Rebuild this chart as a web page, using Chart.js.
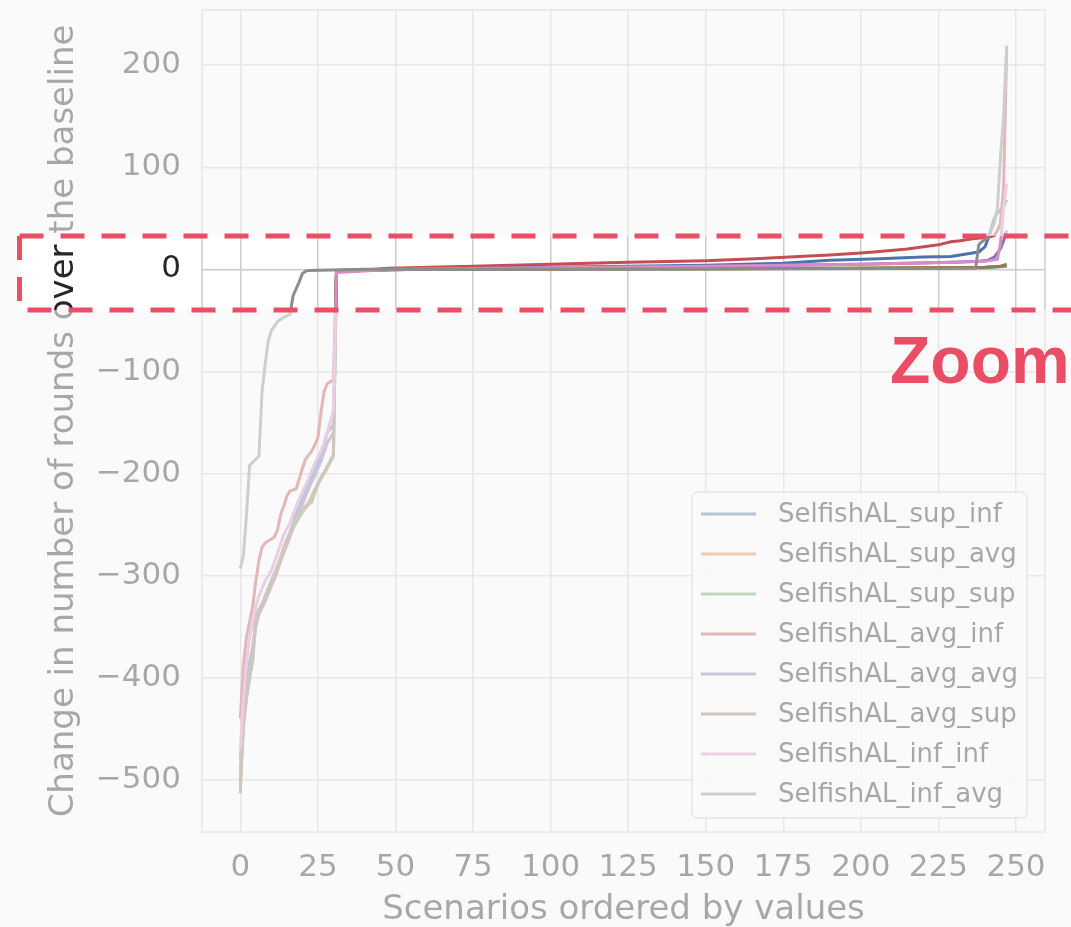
<!DOCTYPE html>
<html><head><meta charset="utf-8">
<script src="https://cdn.jsdelivr.net/npm/chart.js@4.4.1/dist/chart.umd.min.js"></script>
<style>html,body{margin:0;padding:0;background:#fff;overflow:hidden}#wrap{position:relative;width:1071px;height:927px}</style>
</head><body><div id="wrap"><canvas id="c" width="1071" height="927"></canvas></div>
<script>
// ---- data: [scenario index, change in rounds] ----
const labels = ['SelfishAL_sup_inf','SelfishAL_sup_avg','SelfishAL_sup_sup','SelfishAL_avg_inf','SelfishAL_avg_avg','SelfishAL_avg_sup','SelfishAL_inf_inf','SelfishAL_inf_avg'];
const colors = ['#4c72b0','#dd8452','#55a868','#c44e52','#8172b3','#937860','#da8bc3','#8c8c8c'];
const xTicks = [0,25,50,75,100,125,150,175,200,225,250];
const yTicks = [-500,-400,-300,-200,-100,0,100,200];

const sup_inf = [[0,-480],[1,-440],[2,-405],[3,-385],[4,-370],[5,-345],[6,-335],[8,-320],[10,-305],[12,-290],[14,-275],[16,-258],[18,-240],[20,-225],[22,-210],[24,-197],[26,-183],[28,-160],[30,-152],[31,-2],[50,0],[100,2],[150,4],[175,6],[190,9],[206,10.5],[220,12],[229,12.5],[235,15.5],[238,17],[240,22],[241,30],[242,40],[243,50],[244,55],[245,58],[246,62],[247,68]];
const sup_avg = [[0,-500],[1,-450],[2,-420],[3,-400],[4,-380],[5,-342],[6,-335],[8,-322],[10,-308],[12,-290],[14,-272],[16,-258],[18,-245],[20,-235],[22,-228],[24,-215],[26,-205],[28,-195],[30,-180],[31,-1],[60,0],[150,0.5],[200,1],[240,2],[245,3],[247,4]];
const sup_sup = [[0,-505],[1,-445],[2,-410],[3,-398],[4,-385],[5,-340],[6,-333],[8,-325],[10,-310],[12,-295],[14,-275],[16,-260],[18,-248],[20,-238],[22,-230],[24,-218],[26,-205],[28,-193],[30,-182],[31,-1],[60,0],[150,0.5],[200,1],[240,1.5],[247,3]];
const avg_inf = [[0,-440],[1,-387],[2,-360],[3,-345],[4,-330],[5,-305],[6,-285],[7,-272],[8,-268],[10,-264],[11,-262],[12,-255],[13,-240],[14,-232],[15,-222],[16,-217],[18,-215],[19,-205],[20,-195],[21,-186],[22,-182],[23,-178],[24,-172],[25,-165],[26,-140],[27,-120],[28,-112],[29,-110],[30,-108],[31,-2],[40,-0.5],[48,1],[75,3],[100,5],[125,7],[150,8.5],[166,10.5],[180,12.5],[190,14],[200,16],[206,17.5],[215,20],[225,24],[229,27],[232,28],[236,30],[241,31.5],[243,33],[244,38],[245,45],[246,80],[247,218]];
const avg_avg = [[0,-490],[1,-445],[2,-415],[3,-395],[4,-375],[5,-350],[6,-338],[8,-325],[10,-310],[12,-293],[14,-278],[16,-262],[18,-245],[20,-230],[22,-215],[24,-202],[26,-188],[28,-170],[30,-160],[31,-2],[50,0],[100,1.5],[150,3],[200,5],[230,7],[238,8],[241,9],[243,12],[245,20],[246,28],[247,38]];
const avg_sup = [[0,-513],[1,-441],[2,-420],[3,-400],[4,-380],[5,-337],[7,-329],[9,-315],[11,-303],[13,-285],[14,-273],[17,-250],[20,-235],[23,-228],[25,-209],[28,-194],[30,-183],[31,-1],[60,0],[150,0.5],[200,1],[240,2],[245,3],[247,5]];
const inf_inf = [[0,-470],[1,-420],[2,-385],[3,-360],[4,-345],[5,-330],[6,-320],[8,-305],[10,-295],[12,-278],[14,-260],[16,-248],[18,-232],[20,-218],[22,-205],[24,-190],[26,-178],[28,-160],[30,-138],[31,-3],[50,0],[100,1.5],[150,3],[200,5],[230,7],[240,8],[244,10],[245,25],[246,60],[247,84]];
const inf_avg = [[0,-293],[1,-280],[2,-240],[3,-192],[5,-186],[6,-183],[7,-120],[8,-93],[9,-70],[10,-60],[12,-51],[14,-47],[16,-44],[17,-26],[18,-19],[19,-12],[20,-4],[21,-2],[22,-1],[40,0],[150,0.3],[237,1],[238,24],[239,27],[240,29],[241,31],[242,38],[243,45],[244,60],[245,110],[246,150],[247,219]];
const series = [sup_inf, sup_avg, sup_sup, avg_inf, avg_avg, avg_sup, inf_inf, inf_avg];

const FONT = '"DejaVu Sans", Verdana, sans-serif';
const TXT = '#262626';

const datasets = series.map((s, i) => ({
  label: labels[i],
  data: s.map(p => ({x: p[0], y: p[1]})),
  borderColor: colors[i],
  backgroundColor: colors[i],
  borderWidth: 3,
  pointRadius: 0,
  tension: 0,
  fill: false,
  order: -i,
  borderJoinStyle: 'round'
}));

const bgPlugin = {
  id: 'bg',
  beforeDraw(chart) {
    const c = chart.ctx;
    c.save(); c.fillStyle = '#ffffff'; c.fillRect(0, 0, chart.width, chart.height); c.restore();
  },
  beforeDatasetsDraw(chart) {
    const c = chart.ctx, a = chart.chartArea;
    c.save(); c.strokeStyle = '#cccccc'; c.lineWidth = 1.5;
    c.strokeRect(a.left, a.top, a.right - a.left, a.bottom - a.top);
    c.restore();
  },
  afterDatasetsDraw(chart) {
    // legend
    const c = chart.ctx;
    c.save();
    const bx = 692, by = 492, bw = 335, bh = 326;
    c.beginPath();
    c.roundRect(bx, by, bw, bh, 6);
    c.fillStyle = 'rgba(255,255,255,0.85)';
    c.fill();
    c.strokeStyle = '#cccccc'; c.lineWidth = 1.5; c.stroke();
    c.font = '26px ' + FONT;
    c.textBaseline = 'middle';
    chart.data.datasets.forEach((d, i) => {
      const y = 514 + i * 40;
      c.strokeStyle = d.borderColor; c.lineWidth = 3;
      c.beginPath(); c.moveTo(701, y); c.lineTo(756, y); c.stroke();
      c.fillStyle = TXT;
      c.fillText(d.label, 778, y + 1);
    });
    c.restore();
  },
  afterDraw(chart) {
    const c = chart.ctx, W = chart.width, H = chart.height;
    const top = 236, bot = 310, left = 19.5;
    c.save();
    c.beginPath();
    c.rect(0, 0, W, H);
    c.rect(left, top, W - left + 5, bot - top);
    c.fillStyle = 'rgba(247,247,247,0.62)';
    c.fill('evenodd');
    c.strokeStyle = '#e94e66';
    c.lineWidth = 5;
    c.setLineDash([24, 17]);
    c.beginPath(); c.moveTo(left, top); c.lineTo(W + 10, top); c.stroke();
    c.beginPath(); c.moveTo(left, top); c.lineTo(left, bot); c.lineTo(W + 10, bot); c.stroke();
    c.setLineDash([]);
    c.fillStyle = '#e94e66';
    c.font = 'bold 66px "Liberation Sans", Arial, sans-serif';
    c.textBaseline = 'alphabetic';
    c.fillText('Zoom', 890, 383);
    c.restore();
  }
};

new Chart(document.getElementById('c'), {
  type: 'line',
  data: { datasets },
  options: {
    responsive: false,
    animation: false,
    devicePixelRatio: 1,
    layout: { padding: { top: 10, right: 26, left: 0, bottom: 0 } },
    plugins: { legend: { display: false }, tooltip: { enabled: false } },
    scales: {
      x: {
        type: 'linear', min: -12.35, max: 259.35,
        afterBuildTicks: s => { s.ticks = xTicks.map(v => ({ value: v })); },
        afterFit: s => { s.height = 95; s.paddingLeft = 0; s.paddingRight = 0; },
        grid: { color: '#cccccc', lineWidth: 1.5, drawTicks: false },
        border: { display: false },
        ticks: { padding: 17, autoSkip: false, maxRotation: 0, color: TXT, font: { family: FONT, size: 31 } },
        title: { display: true, text: 'Scenarios ordered by values', color: TXT, font: { family: FONT, size: 34 }, padding: { top: 0, bottom: -4 } }
      },
      y: {
        type: 'linear', min: -551, max: 254,
        afterBuildTicks: s => { s.ticks = yTicks.map(v => ({ value: v })); },
        afterFit: s => { s.width = 202; s.paddingTop = 0; s.paddingBottom = 0; },
        grid: { color: '#cccccc', lineWidth: 1.5, drawTicks: false },
        border: { display: false },
        ticks: { padding: 21, color: TXT, font: { family: FONT, size: 31 },
          callback: v => v < 0 ? '\u2212' + Math.abs(v) : String(v) },
        title: { display: true, text: 'Change in number of rounds over the baseline', color: TXT, font: { family: FONT, size: 34 }, padding: { top: 44, bottom: 0 } }
      }
    }
  },
  plugins: [bgPlugin]
});
</script></body></html>
